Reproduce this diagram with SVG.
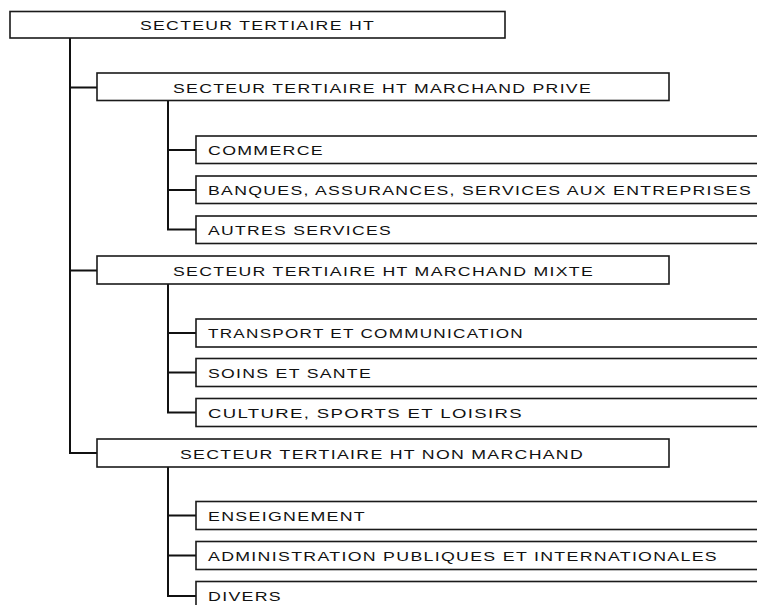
<svg xmlns="http://www.w3.org/2000/svg" width="757" height="605" viewBox="0 0 757 605">
<style>
.box{fill:#fff;stroke:#1a1a1a;stroke-width:1.6}
.t{font-family:"Liberation Sans",Arial,sans-serif;font-size:13.5px;letter-spacing:1px;fill:#111}
.c{fill:none;stroke:#111;stroke-width:2}
</style>
<rect width="757" height="605" fill="#fff"/>
<g id="connectors">
<path class="c" d="M70,38V453H97M70,87.5H97M70,270.5H97"/>
<path class="c" d="M168,100V229.5H196M168,150H196M168,190H196"/>
<path class="c" d="M168,284V412.5H196M168,333H196M168,372.5H196"/>
<path class="c" d="M168,467V596H196M168,515.5H196M168,555.5H196"/>
</g>
<g id="n0"><rect class="box" x="10" y="11.5" width="495" height="26.5"/><text class="t" x="140" y="30" textLength="235" lengthAdjust="spacingAndGlyphs">SECTEUR TERTIAIRE HT</text></g>
<g id="n1"><rect class="box" x="97" y="73" width="572" height="27.5"/><text class="t" x="173" y="92.5" textLength="419" lengthAdjust="spacingAndGlyphs">SECTEUR TERTIAIRE HT MARCHAND PRIVE</text></g>
<g id="n1a"><rect class="box" x="196" y="136" width="580" height="27.5"/><text class="t" x="208" y="155" textLength="116" lengthAdjust="spacingAndGlyphs">COMMERCE</text></g>
<g id="n1b"><rect class="box" x="196" y="176" width="580" height="27.5"/><text class="t" x="208" y="195" textLength="544" lengthAdjust="spacingAndGlyphs">BANQUES, ASSURANCES, SERVICES AUX ENTREPRISES</text></g>
<g id="n1c"><rect class="box" x="196" y="216" width="580" height="27.5"/><text class="t" x="208" y="235" textLength="184" lengthAdjust="spacingAndGlyphs">AUTRES SERVICES</text></g>
<g id="n2"><rect class="box" x="97" y="256" width="572" height="28"/><text class="t" x="173" y="275.5" textLength="421" lengthAdjust="spacingAndGlyphs">SECTEUR TERTIAIRE HT MARCHAND MIXTE</text></g>
<g id="n2a"><rect class="box" x="196" y="319" width="580" height="28"/><text class="t" x="208" y="338" textLength="316" lengthAdjust="spacingAndGlyphs">TRANSPORT ET COMMUNICATION</text></g>
<g id="n2b"><rect class="box" x="196" y="358.5" width="580" height="28"/><text class="t" x="208" y="377.5" textLength="164" lengthAdjust="spacingAndGlyphs">SOINS ET SANTE</text></g>
<g id="n2c"><rect class="box" x="196" y="398.5" width="580" height="28"/><text class="t" x="208" y="417.5" textLength="315" lengthAdjust="spacingAndGlyphs">CULTURE, SPORTS ET LOISIRS</text></g>
<g id="n3"><rect class="box" x="97" y="439" width="572" height="28"/><text class="t" x="180" y="458.5" textLength="404" lengthAdjust="spacingAndGlyphs">SECTEUR TERTIAIRE HT NON MARCHAND</text></g>
<g id="n3a"><rect class="box" x="196" y="501.5" width="580" height="28"/><text class="t" x="208" y="520.5" textLength="158" lengthAdjust="spacingAndGlyphs">ENSEIGNEMENT</text></g>
<g id="n3b"><rect class="box" x="196" y="541.5" width="580" height="28"/><text class="t" x="208" y="560.5" textLength="510" lengthAdjust="spacingAndGlyphs">ADMINISTRATION PUBLIQUES ET INTERNATIONALES</text></g>
<g id="n3c"><rect class="box" x="196" y="581.5" width="580" height="30"/><text class="t" x="208" y="600.5" textLength="74" lengthAdjust="spacingAndGlyphs">DIVERS</text></g>
</svg>
